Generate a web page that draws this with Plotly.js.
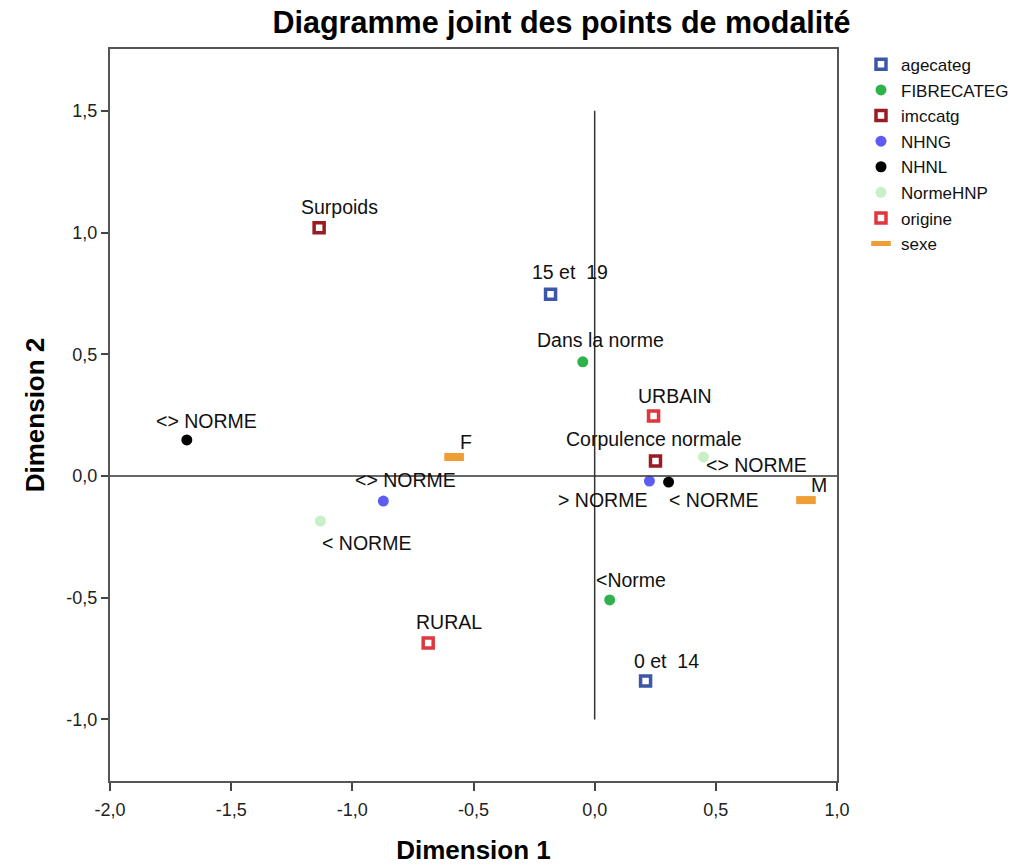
<!DOCTYPE html>
<html>
<head>
<meta charset="utf-8">
<script src="https://cdn.plot.ly/plotly-3.0.1.min.js"></script>
<style>
  html, body { margin: 0; padding: 0; background: #ffffff; }
  #chart { width: 1026px; height: 865px; }
</style>
</head>
<body>
<div id="chart"></div>
<script>
// Category point coordinates (Dimension 1, Dimension 2) per variable
const agecategX = [-0.182, 0.210];
const agecategY = [0.747, -0.842];
const agecategLabels = ['15 et \u00a019', '0 et \u00a014'];

const fibreX = [-0.049, 0.062];
const fibreY = [0.469, -0.509];
const fibreLabels = ['Dans la norme', '<Norme'];

const imcX = [-1.137, 0.251];
const imcY = [1.020, 0.062];
const imcLabels = ['Surpoids', 'Corpulence normale'];

const nhngX = [-0.872, 0.226];
const nhngY = [-0.103, -0.021];
const nhngLabels = ['<> NORME', '> NORME'];

const nhnlX = [-1.683, 0.305];
const nhnlY = [0.148, -0.025];
const nhnlLabels = ['<> NORME', '< NORME'];

const normeX = [-1.132, 0.449];
const normeY = [-0.185, 0.078];
const normeLabels = ['< NORME', '<> NORME'];

const origineX = [0.243, -0.687];
const origineY = [0.246, -0.686];
const origineLabels = ['URBAIN', 'RURAL'];

const sexeX = [-0.580, 0.872];
const sexeY = [0.078, -0.099];
const sexeLabels = ['F', 'M'];

const xTickVals = [-2.0, -1.5, -1.0, -0.5, 0.0, 0.5, 1.0];
const xTickText = ['-2,0', '-1,5', '-1,0', '-0,5', '0,0', '0,5', '1,0'];
const yTickVals = [-1.0, -0.5, 0.0, 0.5, 1.0, 1.5];
const yTickText = ['-1,0', '-0,5', '0,0', '0,5', '1,0', '1,5'];

// Label offsets in pixels [dx, dy] (dy positive = upward)
const labelOffsets = {
  agecateg: [[19, 22], [21, 20]],
  FIBRECATEG: [[18, 22], [21, 20]],
  imccatg: [[20, 21], [-1, 22]],
  NHNG: [[22, 21], [-47, -19]],
  NHNL: [[20, 19], [45, -18]],
  NormeHNP: [[46, -22], [53, -8]],
  origine: [[21, 20], [21, 21]],
  sexe: [[12, 15], [13, 15]]
};

const FONT = 'Arial, "Liberation Sans", sans-serif';

const squareStyle = (c) => ({ symbol: 'square-open', size: 10, line: { color: c, width: 3.5 }, color: c });
const dotStyle = (c) => ({ symbol: 'circle', size: 11, color: c, line: { width: 0 } });
const barStyle = (c) => ({ symbol: 'line-ew', size: 14, line: { color: c, width: 8 }, color: c });

const series = [
  { name: 'agecateg', x: agecategX, y: agecategY, labels: agecategLabels, marker: squareStyle('#3d57a8') },
  { name: 'FIBRECATEG', x: fibreX, y: fibreY, labels: fibreLabels, marker: dotStyle('#2fb24a') },
  { name: 'imccatg', x: imcX, y: imcY, labels: imcLabels, marker: squareStyle('#9b1b22') },
  { name: 'NHNG', x: nhngX, y: nhngY, labels: nhngLabels, marker: dotStyle('#5c5cf2') },
  { name: 'NHNL', x: nhnlX, y: nhnlY, labels: nhnlLabels, marker: dotStyle('#000000') },
  { name: 'NormeHNP', x: normeX, y: normeY, labels: normeLabels, marker: dotStyle('#c9efc9') },
  { name: 'origine', x: origineX, y: origineY, labels: origineLabels, marker: squareStyle('#e0373f') },
  { name: 'sexe', x: sexeX, y: sexeY, labels: sexeLabels, marker: barStyle('#ef9d35') }
];

const traces = series.map(s => ({
  type: 'scatter',
  mode: 'markers',
  name: s.name,
  legendgroup: s.name,
  x: s.x,
  y: s.y,
  text: s.labels,
  hoverinfo: 'text+name',
  marker: s.marker
}));

const annotations = [];
series.forEach(s => {
  s.labels.forEach((lab, i) => {
    const off = labelOffsets[s.name][i];
    annotations.push({
      x: s.x[i], y: s.y[i], xref: 'x', yref: 'y',
      text: lab, showarrow: false,
      xshift: off[0], yshift: off[1],
      font: { family: FONT, size: 19.5, color: '#111111' }
    });
  });
});

const layout = {
  width: 1026,
  height: 865,
  paper_bgcolor: '#ffffff',
  plot_bgcolor: '#ffffff',
  margin: { l: 110, r: 187, t: 49, b: 84 },
  title: {
    text: '<b>Diagramme joint des points de modalité</b>',
    font: { family: FONT, size: 30.5, color: '#000000' },
    xref: 'paper', x: 0.621, xanchor: 'center',
    yref: 'container', y: 0.974, yanchor: 'middle'
  },
  font: { family: FONT, color: '#222222' },
  xaxis: {
    range: [-2.0, 1.0],
    tickvals: xTickVals, ticktext: xTickText,
    ticks: 'outside', ticklen: 8, tickwidth: 2, tickcolor: '#444444',
    ticklabelstandoff: 3,
    tickfont: { family: FONT, size: 18, color: '#222222' },
    showgrid: false, zeroline: false,
    showline: true, mirror: true, linecolor: '#555555', linewidth: 2,
    title: { text: '<b>Dimension 1</b>', font: { family: FONT, size: 26, color: '#000000' }, standoff: 22 }
  },
  yaxis: {
    range: [-1.253, 1.754],
    tickvals: yTickVals, ticktext: yTickText,
    ticks: 'outside', ticklen: 7, tickwidth: 2, tickcolor: '#444444',
    tickfont: { family: FONT, size: 18, color: '#222222' },
    showgrid: false, zeroline: false,
    showline: true, mirror: true, linecolor: '#555555', linewidth: 2,
    title: { text: '<b>Dimension 2</b>', font: { family: FONT, size: 26, color: '#000000' }, standoff: 14 }
  },
  shapes: [
    { type: 'line', xref: 'x', yref: 'y', x0: 0, x1: 0, y0: -1.0, y1: 1.5, line: { color: '#333333', width: 1.5 } },
    { type: 'line', xref: 'x', yref: 'y', x0: -2.0, x1: 1.0, y0: 0, y1: 0, line: { color: '#333333', width: 1.5 } }
  ],
  annotations: annotations,
  showlegend: true,
  legend: {
    x: 1.033, xanchor: 'left',
    y: 1.003, yanchor: 'top',
    font: { family: FONT, size: 17, color: '#111111' },
    tracegroupgap: 0.5,
    bgcolor: 'rgba(0,0,0,0)'
  }
};

Plotly.newPlot('chart', traces, layout, { displayModeBar: false, staticPlot: true });
</script>
</body>
</html>
